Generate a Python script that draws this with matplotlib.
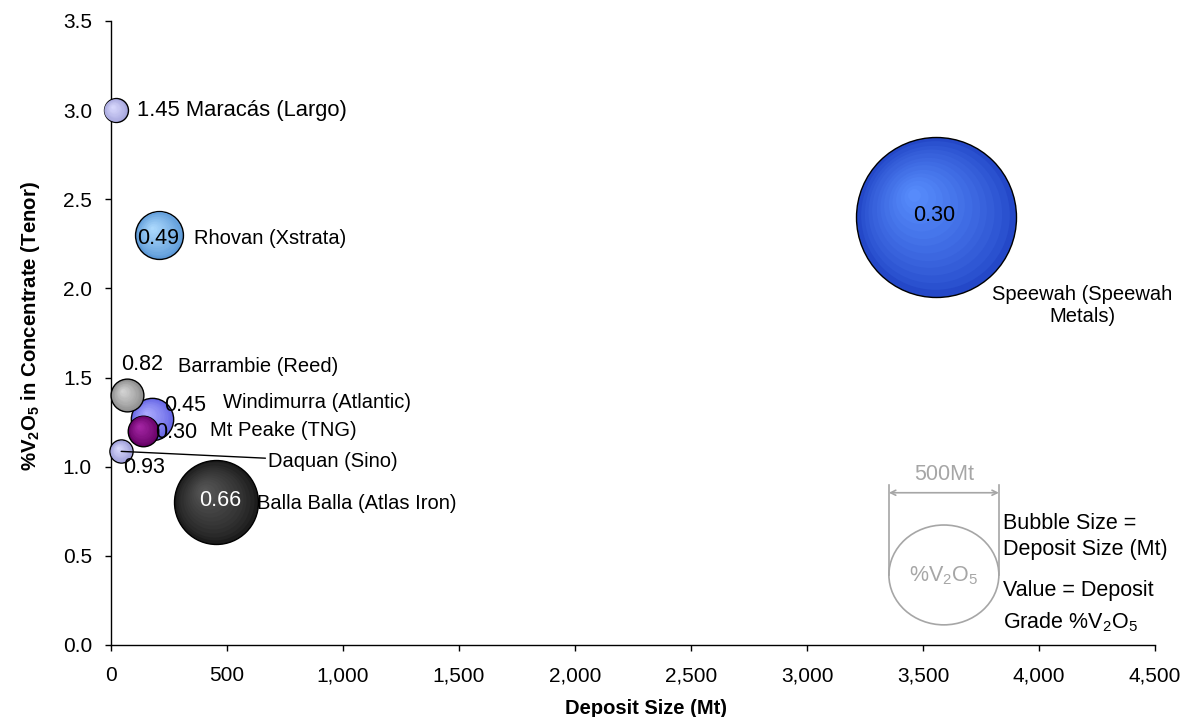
import matplotlib
matplotlib.use("Agg")
import matplotlib.pyplot as plt
import matplotlib.transforms as mtransforms
from matplotlib.colors import to_rgb
from matplotlib.patches import Ellipse
from matplotlib.ticker import FuncFormatter, MultipleLocator
import numpy as np

plt.rcParams["font.family"] = ["Liberation Sans", "DejaVu Sans"]
plt.rcParams["mathtext.fontset"] = "custom"
plt.rcParams["mathtext.rm"] = "Liberation Sans"
plt.rcParams["mathtext.it"] = "Liberation Sans:italic"
plt.rcParams["mathtext.bf"] = "Liberation Sans:bold"

# data
names = [
    "Maracás (Largo)",
    "Rhovan (Xstrata)",
    "Speewah (Speewah\nMetals)",
    "Barrambie (Reed)",
    "Windimurra (Atlantic)",
    "Mt Peake (TNG)",
    "Daquan (Sino)",
    "Balla Balla (Atlas Iron)",
]
deposit_mt = [20, 207, 3557, 69, 177, 139, 44, 453]
tenor = [3.0, 2.3, 2.4, 1.4, 1.267, 1.203, 1.086, 0.8]
grade = [1.45, 0.49, 0.30, 0.82, 0.45, 0.30, 0.93, 0.66]
bubble_size = [24, 96, 1071, 45, 75, 39, 22.5, 295]  # relative bubble areas

# styling
base_cols = ["#a4a4dc", "#5d9ad8", "#2448c8", "#8a8a8a", "#6464e4", "#640064", "#9a9ad6", "#1c1c1c"]
light_cols = ["#dcdcff", "#b0dcff", "#5a90ff", "#d8d8d8", "#aeaeff", "#a828a8", "#dcdcff", "#5a5a5a"]
val_off = [None, (-1, -4), (-2, 2), (15, 31), (33, 14), (33, -2), (23, -16), (4, 2)]
name_off = [(21, 0), (35, -4), (146, -88), (51, 29), (71, 17), (67, 0), (147, -10), (41, -1)]
val_cols = ["black"] * 7 + ["white"]

fig = plt.figure(figsize=(11.87, 7.17), dpi=100)
ax = fig.add_axes([111 / 1187, 72 / 717, 1044 / 1187, 624 / 717])

bsz = np.array(bubble_size, dtype=float)
r_max = 80.0  # px radius of the largest bubble
radii = r_max * np.sqrt(bsz / bsz.max())

order = np.argsort(-bsz)
nlay = 14
for rank, i in enumerate(order):
    z = 3 + rank
    r = radii[i]
    b = np.array(to_rgb(base_cols[i]))
    l = np.array(to_rgb(light_cols[i]))
    # outer bubble with border
    ax.scatter(deposit_mt[i], tenor[i], s=(2 * r * 0.72) ** 2, color=b,
               edgecolors="black", linewidths=1.0, zorder=z, clip_on=False)
    # radial highlight towards upper-left
    for t in np.linspace(0, 0.92, nlay)[1:]:
        rr = r * (1 - t)
        tr = mtransforms.offset_copy(ax.transData, fig=fig, x=-0.3 * r * t,
                                     y=0.3 * r * t, units="dots")
        c = b + (l - b) * t ** 0.8
        ax.scatter(deposit_mt[i], tenor[i], s=(2 * rr * 0.72) ** 2, color=c,
                   linewidths=0, transform=tr, zorder=z, clip_on=False)

fs_name = 14.5
fs_val = 15.5
for i in range(len(names)):
    x, y = deposit_mt[i], tenor[i]
    if i == 0:
        ax.annotate(f"{grade[i]:.2f} {names[i]}", (x, y), xytext=name_off[i],
                    textcoords="offset pixels", ha="left", va="center",
                    fontsize=15.8, zorder=20)
        continue
    ax.annotate(f"{grade[i]:.2f}", (x, y), xytext=val_off[i],
                textcoords="offset pixels", ha="center", va="center",
                fontsize=fs_val, color=val_cols[i], zorder=20)
    if i == 2:
        ax.annotate(names[i], (x, y), xytext=name_off[i],
                    textcoords="offset pixels", ha="center", va="center",
                    multialignment="center", fontsize=fs_name, zorder=20)
    elif i == 6:
        ax.annotate(names[i], (x, y), xytext=name_off[i],
                    textcoords="offset pixels", ha="left", va="center",
                    fontsize=fs_name, zorder=20,
                    arrowprops=dict(arrowstyle="-", color="black", lw=1,
                                    shrinkA=0, shrinkB=0))
    else:
        ax.annotate(names[i], (x, y), xytext=name_off[i],
                    textcoords="offset pixels", ha="left", va="center",
                    fontsize=fs_name, zorder=20)

# size key
grey = "#a6a6a6"
ax.add_patch(Ellipse((3590, 0.393), 474, 0.56, fill=False, edgecolor=grey, lw=1.2))
ax.plot([3353, 3353], [0.39, 0.897], color=grey, lw=1.2)
ax.plot([3827, 3827], [0.39, 0.897], color=grey, lw=1.2)
ax.annotate("", xy=(3353, 0.854), xytext=(3827, 0.854),
            arrowprops=dict(arrowstyle="<->", color=grey, lw=1.2,
                            shrinkA=0, shrinkB=0, mutation_scale=9))
ax.text(3590, 0.955, "500Mt", ha="center", va="center", fontsize=15.5, color=grey)
ax.text(3590, 0.39, r"%V$_2$O$_5$", ha="center", va="center", fontsize=15.5, color=grey)
ax.text(3843, 0.684, "Bubble Size =", ha="left", va="center", fontsize=15.5)
ax.text(3843, 0.533, "Deposit Size (Mt)", ha="left", va="center", fontsize=15.5)
ax.text(3843, 0.308, "Value = Deposit", ha="left", va="center", fontsize=15.5)
ax.text(3843, 0.13, r"Grade %V$_2$O$_5$", ha="left", va="center", fontsize=15.5)

ax.set_xlim(0, 4500)
ax.set_ylim(0, 3.5)
ax.xaxis.set_major_locator(MultipleLocator(500))
ax.yaxis.set_major_locator(MultipleLocator(0.5))
ax.xaxis.set_major_formatter(FuncFormatter(lambda v, p: f"{v:,.0f}"))
ax.yaxis.set_major_formatter(FuncFormatter(lambda v, p: f"{v:.1f}"))
ax.tick_params(direction="out", length=4.3, width=1, labelsize=15)
ax.tick_params(axis="x", pad=11)
ax.tick_params(axis="y", pad=9.4)
for s in ["top", "right"]:
    ax.spines[s].set_visible(False)
for s in ["left", "bottom"]:
    ax.spines[s].set_linewidth(1)

ax.set_xlabel("Deposit Size (Mt)", fontsize=14.5, fontweight="bold")
ax.xaxis.set_label_coords(0.5125, -0.0865)
ax.set_ylabel(r"%V$_\mathbf{2}$O$_\mathbf{5}$ in Concentrate (Tenor)", fontsize=14.7,
              fontweight="bold")
ax.yaxis.set_label_coords(-0.066, 0.511)

fig.savefig("out.png", dpi=100)
